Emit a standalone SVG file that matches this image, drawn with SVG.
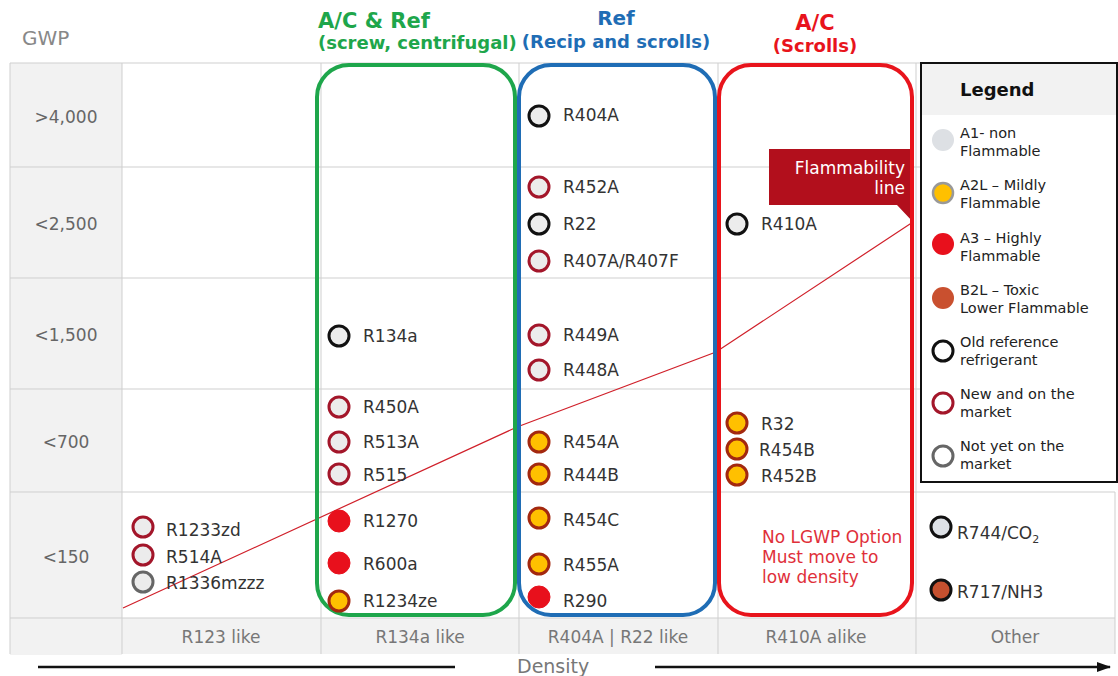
<svg xmlns="http://www.w3.org/2000/svg" width="1118" height="676" viewBox="0 0 1118 676">
<defs>
<style>
text{font-family:"DejaVu Sans",Verdana,"Liberation Sans",sans-serif}
.grid{stroke:#cfcfcf;stroke-width:1;fill:none}
.row{font-size:17px;fill:#666;text-anchor:middle}
.cat{font-size:17px;fill:#777;text-anchor:middle}
.lbl{font-size:17px;fill:#333}
.leg{font-size:14.5px;fill:#222}
.hdr{font-weight:bold;font-size:18px}
.box{fill:none;stroke-width:4}
.old{fill:#ececec;stroke:#111;stroke-width:3}
.new{fill:#ececec;stroke:#a3162a;stroke-width:3}
.ny{fill:#ececec;stroke:#666;stroke-width:3}
.a2l{fill:#ffc000;stroke:#a3280f;stroke-width:3}
.a3{fill:#e8101c;stroke:#e8101c;stroke-width:1}
</style>
<marker id="ah" markerWidth="14" markerHeight="10" refX="13" refY="5" orient="auto" markerUnits="userSpaceOnUse">
<path d="M0,0 L14,5 L0,10 z" fill="#111"/>
</marker>
</defs>
<rect width="1118" height="676" fill="#fff"/>

<g id="grid">
<rect x="10" y="63" width="112" height="592" fill="#f2f2f2"/>
<rect x="10" y="618" width="1105" height="36" fill="#f2f2f2"/>
<line class="grid" x1="10" y1="63" x2="921" y2="63"/>
<line class="grid" x1="10" y1="167" x2="921" y2="167"/>
<line class="grid" x1="10" y1="278" x2="921" y2="278"/>
<line class="grid" x1="10" y1="389" x2="921" y2="389"/>
<line class="grid" x1="10" y1="492" x2="1115" y2="492"/>
<line class="grid" x1="10" y1="618" x2="1115" y2="618"/>
<line class="grid" x1="10" y1="63" x2="10" y2="654"/>
<line class="grid" x1="122" y1="63" x2="122" y2="654"/>
<line class="grid" x1="321" y1="63" x2="321" y2="654"/>
<line class="grid" x1="519" y1="63" x2="519" y2="654"/>
<line class="grid" x1="718" y1="63" x2="718" y2="654"/>
<line class="grid" x1="916" y1="63" x2="916" y2="654"/>
<line class="grid" x1="1115" y1="492" x2="1115" y2="654"/>
</g>

<g id="axis-labels">
<text x="22" y="45" font-size="20" fill="#888">GWP</text>
<text class="row" x="66" y="123">&gt;4,000</text>
<text class="row" x="66" y="230">&lt;2,500</text>
<text class="row" x="66" y="341">&lt;1,500</text>
<text class="row" x="66" y="448">&lt;700</text>
<text class="row" x="66" y="563">&lt;150</text>
<text class="cat" x="221" y="643">R123 like</text>
<text class="cat" x="420" y="643">R134a like</text>
<text class="cat" x="618" y="643">R404A | R22 like</text>
<text class="cat" x="816" y="643">R410A alike</text>
<text class="cat" x="1015" y="643">Other</text>
<text x="517" y="673" font-size="19" fill="#777">Density</text>
</g>

<g id="connectors">
<polyline id="flammability-line" points="123,608 517,427 716,352 913,222" fill="none" stroke="#d0202a" stroke-width="1.2"/>
<line x1="38" y1="667" x2="455" y2="667" stroke="#111" stroke-width="2.5"/>
<line x1="655" y1="667" x2="1110" y2="667" stroke="#111" stroke-width="2.5" marker-end="url(#ah)"/>
</g>

<g id="flammability-flag">
<polygon points="769,149 913,149 913,222 897,205 769,205" fill="#b20f1c"/>
<text x="905" y="174" font-size="17" fill="#fff" text-anchor="end">Flammability</text>
<text x="905" y="194" font-size="17" fill="#fff" text-anchor="end">line</text>
</g>

<g id="group-ac-ref">
<rect class="box" x="317" y="65" width="198" height="550" rx="32" stroke="#1ea64b"/>
<text x="318" y="28" font-size="21" font-weight="bold" fill="#1ea64b">A/C &amp; Ref</text>
<text class="hdr" x="318" y="49" fill="#1ea64b">(screw, centrifugal)</text>
</g>
<g id="group-ref">
<rect class="box" x="519" y="65" width="196" height="550" rx="32" stroke="#1f6db5"/>
<text x="616" y="25" font-size="20" font-weight="bold" fill="#1f6db5" text-anchor="middle">Ref</text>
<text class="hdr" x="616" y="48" fill="#1f6db5" text-anchor="middle">(Recip and scrolls)</text>
</g>
<g id="group-ac">
<rect class="box" x="719" y="65" width="193" height="550" rx="32" stroke="#e8141c"/>
<text x="815" y="30" font-size="21" font-weight="bold" fill="#e8141c" text-anchor="middle">A/C</text>
<text class="hdr" x="815" y="52" fill="#e8141c" text-anchor="middle">(Scrolls)</text>
</g>

<g id="R1233zd"><circle class="new" cx="143" cy="527" r="10"/><text class="lbl" x="166" y="536">R1233zd</text></g>
<g id="R514A"><circle class="new" cx="143" cy="555" r="10"/><text class="lbl" x="166" y="563">R514A</text></g>
<g id="R1336mzzz"><circle class="ny" cx="143" cy="582" r="10"/><text class="lbl" x="166" y="589">R1336mzzz</text></g>

<g id="R134a"><circle class="old" cx="339" cy="336" r="10"/><text class="lbl" x="363" y="342">R134a</text></g>
<g id="R450A"><circle class="new" cx="339" cy="407" r="10"/><text class="lbl" x="363" y="413">R450A</text></g>
<g id="R513A"><circle class="new" cx="339" cy="442" r="10"/><text class="lbl" x="363" y="448">R513A</text></g>
<g id="R515"><circle class="new" cx="339" cy="474" r="10"/><text class="lbl" x="363" y="481">R515</text></g>
<g id="R1270"><circle class="a3" cx="339" cy="521" r="11"/><text class="lbl" x="363" y="527">R1270</text></g>
<g id="R600a"><circle class="a3" cx="339" cy="563" r="11"/><text class="lbl" x="363" y="570">R600a</text></g>
<g id="R1234ze"><circle class="a2l" cx="339" cy="601" r="10"/><text class="lbl" x="363" y="607">R1234ze</text></g>

<g id="R404A"><circle class="old" cx="539" cy="116" r="10"/><text class="lbl" x="563" y="121">R404A</text></g>
<g id="R452A"><circle class="new" cx="539" cy="187" r="10"/><text class="lbl" x="563" y="193">R452A</text></g>
<g id="R22"><circle class="old" cx="539" cy="224" r="10"/><text class="lbl" x="563" y="230">R22</text></g>
<g id="R407A-R407F"><circle class="new" cx="539" cy="261" r="10"/><text class="lbl" x="563" y="267">R407A/R407F</text></g>
<g id="R449A"><circle class="new" cx="539" cy="335" r="10"/><text class="lbl" x="563" y="341">R449A</text></g>
<g id="R448A"><circle class="new" cx="539" cy="370" r="10"/><text class="lbl" x="563" y="376">R448A</text></g>
<g id="R454A"><circle class="a2l" cx="539" cy="442" r="10"/><text class="lbl" x="563" y="448">R454A</text></g>
<g id="R444B"><circle class="a2l" cx="539" cy="474" r="10"/><text class="lbl" x="563" y="481">R444B</text></g>
<g id="R454C"><circle class="a2l" cx="539" cy="518" r="10"/><text class="lbl" x="563" y="526">R454C</text></g>
<g id="R455A"><circle class="a2l" cx="539" cy="564" r="10"/><text class="lbl" x="563" y="571">R455A</text></g>
<g id="R290"><circle class="a3" cx="539" cy="597" r="11"/><text class="lbl" x="563" y="607">R290</text></g>

<g id="R410A"><circle class="old" cx="737" cy="224" r="10"/><text class="lbl" x="761" y="230">R410A</text></g>
<g id="R32"><circle class="a2l" cx="737" cy="423" r="10"/><text class="lbl" x="761" y="430">R32</text></g>
<g id="R454B"><circle class="a2l" cx="737" cy="449" r="10"/><text class="lbl" x="759" y="456">R454B</text></g>
<g id="R452B"><circle class="a2l" cx="737" cy="475" r="10"/><text class="lbl" x="761" y="482">R452B</text></g>
<g id="no-lgwp-note" font-size="17" fill="#e0303a">
<text x="762" y="543">No LGWP Option</text>
<text x="762" y="563">Must move to</text>
<text x="762" y="583">low density</text>
</g>

<g id="R744-CO2"><circle cx="941" cy="527" r="10" fill="#dde1e6" stroke="#111" stroke-width="3"/><text class="lbl" x="957" y="539">R744/CO<tspan font-size="11" dy="4">2</tspan></text></g>
<g id="R717-NH3"><circle cx="941" cy="590" r="10" fill="#c4502f" stroke="#111" stroke-width="3"/><text class="lbl" x="957" y="598">R717/NH3</text></g>

<g id="legend">
<rect x="921" y="63" width="196" height="419" fill="#fff" stroke="#111" stroke-width="2"/>
<rect x="922" y="64" width="194" height="51" fill="#f2f2f2"/>
<text x="960" y="96" font-size="18" font-weight="bold" fill="#111">Legend</text>
<circle cx="943" cy="140" r="11" fill="#dde0e4"/>
<text class="leg" x="960" y="138">A1- non</text><text class="leg" x="960" y="156">Flammable</text>
<circle cx="943" cy="193" r="10" fill="#ffc000" stroke="#999" stroke-width="2.5"/>
<text class="leg" x="960" y="190">A2L – Mildly</text><text class="leg" x="960" y="208">Flammable</text>
<circle cx="943" cy="244" r="11" fill="#e8101c"/>
<text class="leg" x="960" y="243">A3 – Highly</text><text class="leg" x="960" y="261">Flammable</text>
<circle cx="943" cy="298" r="11" fill="#c9502f"/>
<text class="leg" x="960" y="295">B2L – Toxic</text><text class="leg" x="960" y="313">Lower Flammable</text>
<circle cx="943" cy="351" r="10" fill="#fff" stroke="#111" stroke-width="3"/>
<text class="leg" x="960" y="347">Old reference</text><text class="leg" x="960" y="365">refrigerant</text>
<circle cx="943" cy="403" r="10" fill="#fff" stroke="#a3162a" stroke-width="3"/>
<text class="leg" x="960" y="399">New and on the</text><text class="leg" x="960" y="417">market</text>
<circle cx="943" cy="456" r="10" fill="#fff" stroke="#666" stroke-width="3"/>
<text class="leg" x="960" y="451">Not yet on the</text><text class="leg" x="960" y="469">market</text>
</g>
</svg>
